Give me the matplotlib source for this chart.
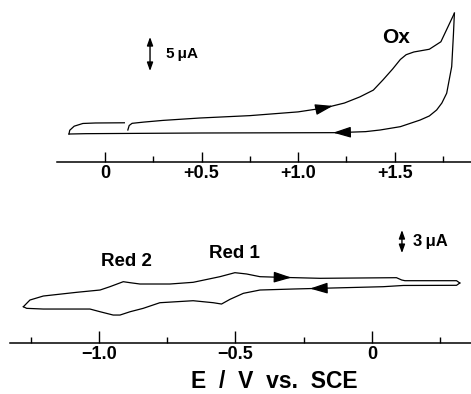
import numpy as np
import matplotlib
matplotlib.use("Agg")
import matplotlib.pyplot as plt

plt.rcParams['font.family'] = ['Liberation Sans', 'DejaVu Sans']
plt.rcParams['font.weight'] = 'bold'

# ---- top panel (oxidation), E in V vs SCE, I in uA ----
top_fwd_E = [0.118, 0.125, 0.14, 0.20, 0.30, 0.49, 0.75, 1.00, 1.14, 1.24, 1.32,
             1.39, 1.44, 1.49, 1.53, 1.56, 1.60, 1.68, 1.74, 1.81]
top_fwd_I = [0.44, 1.1, 1.42, 1.6, 1.85, 2.2, 2.55, 3.1, 3.7, 4.4, 5.3,
             6.3, 7.8, 9.4, 10.8, 11.5, 11.9, 12.3, 13.4, 17.6]
top_rev_E = [1.81, 1.805, 1.796, 1.77, 1.745, 1.718, 1.68, 1.632, 1.53, 1.425,
             1.35, 1.20, 0.50, -0.10, -0.187]
top_rev_I = [17.6, 14.5, 9.75, 5.84, 4.4, 3.38, 2.5, 1.9, 0.93, 0.44,
             0.2, 0.05, 0.0, -0.1, -0.15]
top_hook_E = [-0.187, -0.183, -0.16, -0.115, -0.05, 0.10]
top_hook_I = [-0.15, 0.4, 1.0, 1.4, 1.47, 1.5]
top_ticks = [0, 0.5, 1.0, 1.5]
top_ticklabels = ['0', '+0.5', '+1.0', '+1.5']
top_minor = [0.25, 0.75, 1.25, 1.75]
top_arrow_fwd = 1.18
top_arrow_rev = 1.182

# ---- bottom panel (reduction) ----
bot_cath_E = [0.322, 0.31, 0.115, 0.041, -0.19, -0.288, -0.41, -0.471, -0.52,
              -0.551, -0.581, -0.655, -0.777, -0.838, -0.886, -0.923, -0.948,
              -0.996, -1.033, -1.204, -1.265, -1.277]
bot_cath_I = [0.52, 0.22, 0.2, 0.04, -0.17, -0.26, -0.39, -0.82, -1.6,
              -2.21, -2.04, -1.78, -2.04, -2.77, -3.21, -3.64, -3.64,
              -3.21, -2.86, -2.86, -2.77, -2.56]
bot_anod_E = [-1.277, -1.253, -1.204, -1.082, -0.996, -0.96, -0.911, -0.886,
              -0.85, -0.74, -0.655, -0.557, -0.502, -0.459, -0.41, -0.337,
              -0.19, 0.09, 0.109, 0.121, 0.31, 0.322]
bot_anod_I = [-2.56, -1.69, -1.17, -0.69, -0.39, 0.04, 0.69, 0.56,
              0.39, 0.39, 0.61, 1.34, 1.86, 1.69, 1.34, 1.26,
              1.13, 1.21, 0.91, 0.82, 0.82, 0.52]
bot_ticks = [-1.0, -0.5, 0]
bot_ticklabels = ['\u22121.0', '\u22120.5', '0']
bot_minor = [-1.25, -0.75, -0.25, 0.25]
bot_arrow_anod = -0.295
bot_arrow_cath = -0.227

W, H = 471, 394
fig = plt.figure(figsize=(W / 100, H / 100), dpi=100)

def px_axes(x0, x1, ytop, ybot):
    return fig.add_axes([x0 / W, 1 - ybot / H, (x1 - x0) / W, (ybot - ytop) / H])

def style(ax, ticks, labels, minor, major_len):
    for s in ['top', 'left', 'right']:
        ax.spines[s].set_visible(False)
    ax.spines['bottom'].set_linewidth(1.1)
    ax.set_yticks([])
    ax.set_xticks(ticks)
    ax.set_xticklabels(labels, fontsize=13, fontweight='bold')
    ax.set_xticks(minor, minor=True)
    ax.tick_params(axis='x', which='major', direction='in', length=major_len,
                   width=1.0, pad=2.5)
    ax.tick_params(axis='x', which='minor', direction='in', length=4.3, width=1.0)
    ax.patch.set_alpha(0)

def head(ax, E, I, x_tip, back):
    order = np.argsort(E)
    Es = np.asarray(E)[order]
    Is = np.asarray(I)[order]
    y_tip = np.interp(x_tip, Es, Is)
    x_tail = x_tip - back
    y_tail = np.interp(x_tail, Es, Is)
    ax.annotate('', xy=(x_tip, y_tip), xytext=(x_tail, y_tail),
                arrowprops=dict(arrowstyle='-|>,head_length=0.9,head_width=0.28',
                                color='black', lw=0.9, mutation_scale=12,
                                shrinkA=0, shrinkB=0))

def scalebar(ax, x, y0, y1, text, tx, fs):
    ax.annotate('', xy=(x, y1), xytext=(x, y0),
                arrowprops=dict(arrowstyle='<|-|>,head_length=0.5,head_width=0.18',
                                color='black', lw=1.0, mutation_scale=10,
                                shrinkA=0, shrinkB=0))
    ax.text(tx, (y0 + y1) / 2, text, fontsize=fs, fontweight='bold',
            ha='left', va='center')

# top panel
ax1 = px_axes(57, 471, 5, 162)
ax1.set_xlim(-0.249, 1.896)
ax1.set_ylim(-4.26, 18.8)
for E, I in [(top_fwd_E, top_fwd_I), (top_rev_E, top_rev_I), (top_hook_E, top_hook_I)]:
    ax1.plot(E, I, color='black', lw=0.9)
head(ax1, top_fwd_E, top_fwd_I, top_arrow_fwd, 0.06)
head(ax1, top_rev_E, top_rev_I, top_arrow_rev, -0.06)
scalebar(ax1, 0.233, 9.1, 14.1, '5\u2009\u03bcA', 0.315, 11)
ax1.text(1.508, 14.0, 'Ox', fontsize=15, fontweight='bold', ha='center', va='center')
style(ax1, top_ticks, top_ticklabels, top_minor, 7.2)

# bottom panel
ax2 = px_axes(10, 471, 215, 343)
ax2.set_xlim(-1.326, 0.363)
ax2.set_ylim(-7.27, 9.35)
for E, I in [(bot_cath_E, bot_cath_I), (bot_anod_E, bot_anod_I)]:
    ax2.plot(E, I, color='black', lw=0.9)
head(ax2, bot_anod_E, bot_anod_I, bot_arrow_anod, 0.045)
head(ax2, bot_cath_E, bot_cath_I, bot_arrow_cath, -0.045)
scalebar(ax2, 0.11, 4.4, 7.4, '3\u2009\u03bcA', 0.152, 12)
ax2.text(-0.90, 3.25, 'Red 2', fontsize=13.5, fontweight='bold', ha='center', va='center')
ax2.text(-0.505, 4.4, 'Red 1', fontsize=13.5, fontweight='bold', ha='center', va='center')
style(ax2, bot_ticks, bot_ticklabels, bot_minor, 8.6)

fig.text(274 / W, 1 - 393 / H, 'E  /  V  vs.  SCE', fontsize=16.5, fontweight='bold',
         ha='center', va='bottom')

fig.savefig('out.png', dpi=100)
